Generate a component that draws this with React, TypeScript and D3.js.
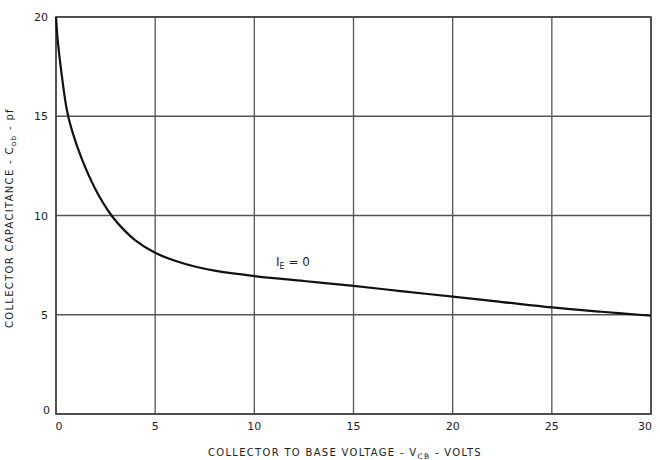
import React from "react";
import * as d3 from "d3";

const voltage = [0, 0.1, 0.3, 0.55, 0.8, 1.3, 2.0, 2.8, 3.5, 4.0, 5.0, 6.0, 7.0, 8.0, 10, 12.5, 15, 17.5, 20, 22.5, 25, 27.5, 30];
const capacitance = [20.0, 18.7, 17.0, 15.3, 14.3, 12.85, 11.3, 10.0, 9.2, 8.75, 8.12, 7.72, 7.43, 7.22, 6.95, 6.7, 6.45, 6.18, 5.91, 5.64, 5.37, 5.15, 4.95];
const xTicks = [0, 5, 10, 15, 20, 25, 30];
const yTicks = [0, 5, 10, 15, 20];

export default function App() {
  const W = 660, H = 460;
  const x = d3.scaleLinear().domain([0, 30]).range([56, 651]);
  const y = d3.scaleLinear().domain([0, 20]).range([414, 17]);
  const pts = voltage.map((v, i) => [v, capacitance[i]] as [number, number]);
  const line = d3.line<[number, number]>().x(d => x(d[0])).y(d => y(d[1])).curve(d3.curveCatmullRom.alpha(0.5));
  const font = "'DejaVu Sans', sans-serif";
  return (
    <svg width={W} height={H} style={{ position: "absolute", left: 0, top: 0, background: "#fff" }}>
      <rect x={0} y={0} width={W} height={H} fill="#fff" />
      {xTicks.map(t => (
        <line key={"gx" + t} x1={x(t)} x2={x(t)} y1={y(0)} y2={y(20)} stroke="#555" strokeWidth={1.3} />
      ))}
      {yTicks.map(t => (
        <line key={"gy" + t} x1={x(0)} x2={x(30)} y1={y(t)} y2={y(t)} stroke="#555" strokeWidth={1.3} />
      ))}
      <rect x={x(0)} y={y(20)} width={x(30) - x(0)} height={y(0) - y(20)} fill="none" stroke="#444" strokeWidth={1.6} />
      <path d={line(pts) || ""} fill="none" stroke="#111" strokeWidth={2.2} strokeLinejoin="round" />
      {yTicks.map(t => (
        <text key={"ty" + t} x={x(0) - (t === 0 ? 6 : 8)} y={y(t) + (t === 0 ? 0 : 4)} textAnchor="end" fontFamily={font} fontSize={11} fill="#222">{t}</text>
      ))}
      {xTicks.map(t => (
        <text key={"tx" + t} x={x(t) + (t === 30 ? -6 : t === 0 ? 3 : 0)} y={y(0) + 16} textAnchor="middle" fontFamily={font} fontSize={11} fill="#222">{t}</text>
      ))}
      <text x={345} y={456} textAnchor="middle" fontFamily={font} fontSize={10} letterSpacing={1.3} fill="#222">
        COLLECTOR TO BASE VOLTAGE - V<tspan fontSize={7.5} dy={3}>CB</tspan><tspan dy={-3}> - VOLTS</tspan>
      </text>
      <text transform={`translate(13,${218}) rotate(-90)`} textAnchor="middle" fontFamily={font} fontSize={10} letterSpacing={1.3} fill="#222">
        COLLECTOR CAPACITANCE - C<tspan fontSize={7.5} dy={3}>ob</tspan><tspan dy={-3}> - pf</tspan>
      </text>
      <text x={276} y={266} fontFamily={font} fontSize={12} fill="#222">
        I<tspan fontSize={8} dy={3}>E</tspan><tspan dy={-3}> = 0</tspan>
      </text>
    </svg>
  );
}
